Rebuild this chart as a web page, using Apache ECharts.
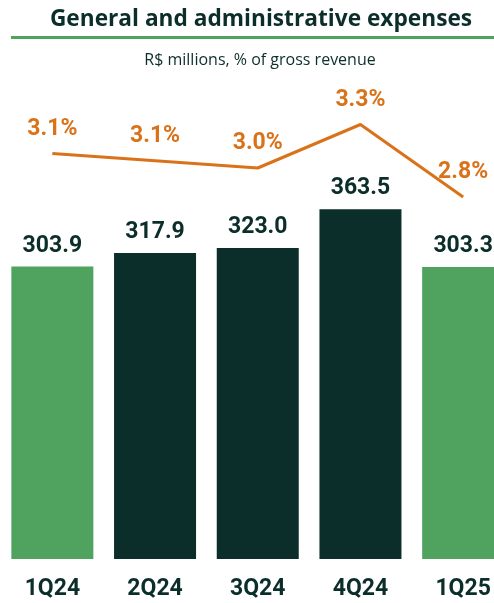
<!DOCTYPE html>
<html>
<head>
<meta charset="utf-8">
<script src="https://cdn.jsdelivr.net/npm/echarts@6/dist/echarts.min.js"></script>
<style>
html,body{margin:0;padding:0;background:#fff;}
#c{width:494px;height:603px;}
</style>
</head>
<body>
<div id="c"></div>
<script>
const categories = ['1Q24', '2Q24', '3Q24', '4Q24', '1Q25'];
const expenses = [303.9, 317.9, 323.0, 363.5, 303.3];
const expenseLabels = ['303.9', '317.9', '323.0', '363.5', '303.3'];
const pctRevenue = [3.1, 3.05, 3.0, 3.3, 2.8];
const pctLabels = ['3.1%', '3.1%', '3.0%', '3.3%', '2.8%'];

const DARK = '#0c2e2a';
const GREEN = '#4fa35f';
const ORANGE = '#da7219';
const FONT = 'Roboto';
const TFONT = 'Open Sans';

const barColors = [GREEN, DARK, DARK, DARK, GREEN];

const chart = echarts.init(document.getElementById('c'), null, {renderer: 'canvas'});
chart.setOption({
  animation: false,
  textStyle: {fontFamily: FONT},
  title: [
    {text: 'General and administrative expenses', left: 256, top: 3, textAlign: 'center',
     textStyle: {fontFamily: TFONT, fontWeight: 'bold', fontSize: 22.7, color: DARK}},
    {text: 'R$ millions, % of gross revenue', left: 255, top: 47, textAlign: 'center',
     textStyle: {fontFamily: TFONT, fontWeight: 'normal', fontSize: 16, color: DARK}}
  ],
  graphic: [
    {type: 'rect', shape: {x: 11, y: 36, width: 483, height: 3}, style: {fill: GREEN}}
  ],
  grid: [
    {left: 1, right: -20.5, top: 174, height: 385, outerBoundsMode: 'none', containLabel: false},
    {left: 1, right: -20.5, top: 95.5, height: 145, outerBoundsMode: 'none', containLabel: false}
  ],
  xAxis: [
    {type: 'category', data: categories, gridIndex: 0,
     axisLine: {show: false}, axisTick: {show: false},
     axisLabel: {margin: 19, fontFamily: FONT, fontWeight: 'bold', fontSize: 23, color: DARK}},
    {type: 'category', data: categories, gridIndex: 1, show: false}
  ],
  yAxis: [
    {type: 'value', gridIndex: 0, min: 0, max: 400, show: false, splitLine: {show: false}},
    {type: 'value', gridIndex: 1, min: 2.5, max: 3.5, show: false, splitLine: {show: false}}
  ],
  series: [
    {type: 'bar', xAxisIndex: 0, yAxisIndex: 0, barWidth: 82,
     data: expenses.map((v, i) => ({value: v, itemStyle: {color: barColors[i]}})),
     label: {show: true, position: 'top', distance: 9,
       formatter: p => expenseLabels[p.dataIndex],
       fontFamily: FONT, fontWeight: 'bold', fontSize: 23, color: DARK}},
    {type: 'line', xAxisIndex: 1, yAxisIndex: 1, data: pctRevenue, clip: false,
     symbol: 'circle', symbolSize: 2, showSymbol: true,
     itemStyle: {color: 'rgba(0,0,0,0)', borderWidth: 0},
     lineStyle: {color: ORANGE, width: 3},
     label: {show: true, position: 'top', distance: 12,
       formatter: p => pctLabels[p.dataIndex],
       fontFamily: FONT, fontWeight: 'bold', fontSize: 23, color: ORANGE}}
  ]
});
</script>
</body>
</html>
